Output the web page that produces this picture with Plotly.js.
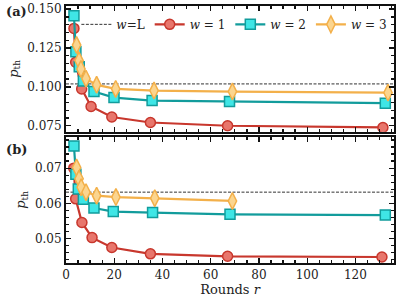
<!DOCTYPE html>
<html>
<head>
<meta charset="utf-8">
<script src="https://cdn.plot.ly/plotly-3.0.1.min.js"></script>
<style>html,body{margin:0;padding:0;background:#fff;}#chart{width:405px;height:300px;}</style>
</head>
<body>
<div id="chart"></div>
<script>
// ---- data ----
const xRange = [0, 136];
const wL_a = 0.1019;
const wL_b = 0.0632;

// panel (a)
const r1_a = [3.3, 4.0, 6.5, 10.4, 19.0, 35.0, 67.0, 131.4];
const p1_a = [0.1376, 0.1158, 0.0987, 0.0874, 0.0806, 0.0771, 0.0750, 0.0739];
const r2_a = [3.3, 4.1, 5.5, 7.2, 11.6, 19.9, 35.7, 67.8, 132.4];
const p2_a = [0.1457, 0.1226, 0.1130, 0.1038, 0.0970, 0.0931, 0.0912, 0.0906, 0.0895];
const r3_a = [4.4, 5.4, 6.2, 8.3, 12.7, 20.6, 36.5, 69.0, 133.5];
const p3_a = [0.1269, 0.1169, 0.1115, 0.1053, 0.1013, 0.0987, 0.0976, 0.0970, 0.0963];

// panel (b)
const r1_b = [3.2, 4.0, 6.6, 10.8, 19.0, 35.0, 67.0, 131.0];
const p1_b = [0.0700, 0.0613, 0.0546, 0.0503, 0.0475, 0.0457, 0.0450, 0.0448];
const r2_b = [3.3, 4.1, 5.1, 7.2, 11.6, 19.6, 35.9, 68.0, 132.4];
const p2_b = [0.0763, 0.0683, 0.0641, 0.0612, 0.0587, 0.0577, 0.0574, 0.0569, 0.0567];
const r3_b = [4.4, 5.4, 6.3, 8.3, 12.7, 20.7, 36.8, 69.0];
const p3_b = [0.0702, 0.0670, 0.0646, 0.0632, 0.0622, 0.0618, 0.0615, 0.0607];

const xTicks = [0, 20, 40, 60, 80, 100, 120];
const yTicks_a = [0.075, 0.100, 0.125, 0.150];
const yTicks_b = [0.05, 0.06, 0.07];

// ---- styles ----
const FONT = "DejaVu Serif";
const S = {
  1: {line: "#c8372d", fill: "#e8766c", sym: "circle", size: 10},
  2: {line: "#129c9c", fill: "#3fe6e6", sym: "square", size: 10},
  3: {line: "#f3b04a", fill: "#fbd58f", sym: "diamond-tall", size: 12}
};
function series(x, y, k, xa, ya, show, name) {
  return {
    x: x, y: y, xaxis: xa, yaxis: ya, type: "scatter", mode: "lines+markers",
    name: name, showlegend: show, legendgroup: "w" + k,
    line: {color: S[k].line, width: 2.2},
    marker: {symbol: S[k].sym, size: S[k].size, color: S[k].fill,
             line: {color: S[k].line, width: 1.5}}
  };
}
const dashA = {x: xRange, y: [wL_a, wL_a], xaxis: "x", yaxis: "y", mode: "lines",
  name: "<i>w</i>=L", legendgroup: "L", showlegend: true,
  line: {color: "#333", width: 1, dash: "3px,1.5px"}};
const dashB = {x: xRange, y: [wL_b, wL_b], xaxis: "x2", yaxis: "y2", mode: "lines",
  name: "wL", legendgroup: "L", showlegend: false,
  line: {color: "#333", width: 1, dash: "3px,1.5px"}};

const data = [
  dashA,
  series(r1_a, p1_a, 1, "x", "y", true, "<i>w</i> = 1"),
  series(r2_a, p2_a, 2, "x", "y", true, "<i>w</i> = 2"),
  series(r3_a, p3_a, 3, "x", "y", true, "<i>w</i> = 3"),
  dashB,
  series(r1_b, p1_b, 1, "x2", "y2", false, "w1"),
  series(r2_b, p2_b, 2, "x2", "y2", false, "w2"),
  series(r3_b, p3_b, 3, "x2", "y2", false, "w3")
];

const axBase = {
  showline: true, mirror: "ticks", linecolor: "#111", linewidth: 2,
  ticks: "inside", ticklen: 5, tickwidth: 1.3, tickcolor: "#111",
  showgrid: false, zeroline: false,
  tickfont: {family: FONT, size: 12, color: "#222"}
};
const layout = {
  width: 405, height: 300,
  margin: {l: 66, r: 11, t: 6, b: 37},
  paper_bgcolor: "#fff", plot_bgcolor: "#fff",
  font: {family: FONT, color: "#222"},
  xaxis: Object.assign({}, axBase, {range: xRange, domain: [0, 1], anchor: "y",
    tickvals: xTicks, showticklabels: false,
    minor: {dtick: 5, ticks: "inside", ticklen: 3, tickcolor: "#111"}}),
  yaxis: Object.assign({}, axBase, {range: [0.0712, 0.152], domain: [0.511, 1], anchor: "x",
    tickvals: yTicks_a, ticktext: yTicks_a.map(v => v.toFixed(3)),
    minor: {dtick: 0.005, tick0: 0, ticks: "inside", ticklen: 3, tickcolor: "#111"},
    title: {text: "<i>p</i><sub>th</sub>", font: {family: FONT, size: 13}, standoff: 6}}),
  xaxis2: Object.assign({}, axBase, {range: xRange, domain: [0, 1], anchor: "y2",
    tickvals: xTicks,
    minor: {dtick: 5, ticks: "inside", ticklen: 3, tickcolor: "#111"},
    title: {text: "Rounds <i>r</i>", font: {family: FONT, size: 13}, standoff: 2}}),
  yaxis2: Object.assign({}, axBase, {range: [0.0431, 0.0789], domain: [0, 0.491], anchor: "x2",
    tickvals: yTicks_b, ticktext: yTicks_b.map(v => v.toFixed(2)),
    minor: {dtick: 0.002, tick0: 0, ticks: "inside", ticklen: 3, tickcolor: "#111"},
    title: {text: "<i>p</i><sub>th</sub>", font: {family: FONT, size: 13}, standoff: 6}}),
  legend: {orientation: "h", x: 0.995, xanchor: "right", y: 0.985, yanchor: "top",
    bgcolor: "rgba(0,0,0,0)", font: {family: FONT, size: 12, color: "#222"},
    itemwidth: 30, tracegroupgap: 0},
  annotations: [
    {text: "<b>(a)</b>", xref: "paper", yref: "paper", x: -0.19, y: 0.977,
     xanchor: "left", yanchor: "middle", showarrow: false, font: {family: FONT, size: 13, color: "#222"}},
    {text: "<b>(b)</b>", xref: "paper", yref: "paper", x: -0.19, y: 0.44,
     xanchor: "left", yanchor: "middle", showarrow: false, font: {family: FONT, size: 13, color: "#222"}}
  ]
};
Plotly.newPlot("chart", data, layout, {staticPlot: true, displayModeBar: false});
</script>
</body>
</html>
